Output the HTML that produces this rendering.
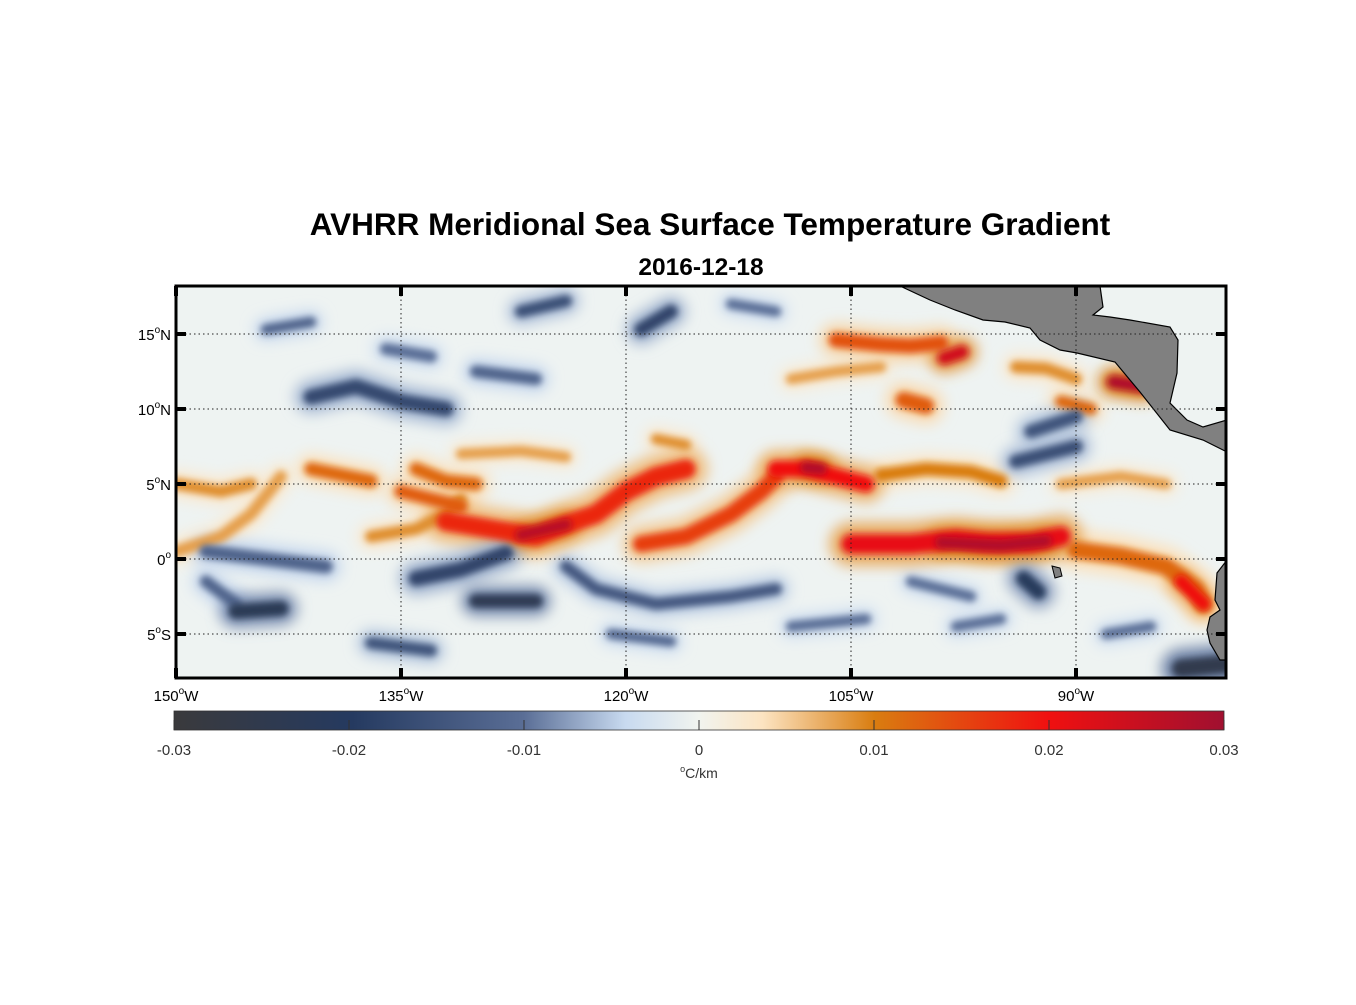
<!DOCTYPE html>
<html><head><meta charset="utf-8"><style>
body{margin:0;background:#fff;}
svg text{font-family:"Liberation Sans",Arial,sans-serif;}
</style></head><body>
<svg id="chart" width="1356" height="1000" viewBox="0 0 1356 1000" xmlns="http://www.w3.org/2000/svg">
<defs>
<filter id="blur" filterUnits="userSpaceOnUse" x="0" y="0" width="1356" height="1000"><feGaussianBlur stdDeviation="3.5"/></filter>
<filter id="blur2" filterUnits="userSpaceOnUse" x="0" y="0" width="1356" height="1000"><feGaussianBlur stdDeviation="7"/></filter>
<clipPath id="mapclip"><rect x="176" y="286" width="1050" height="392"/></clipPath>
<linearGradient id="cbar" x1="0" x2="1" y1="0" y2="0">
<stop offset="0" stop-color="#3a3a3c"/>
<stop offset="0.17" stop-color="#253a60"/>
<stop offset="0.333" stop-color="#5a6e96"/>
<stop offset="0.43" stop-color="#c8daf0"/>
<stop offset="0.5" stop-color="#f1f4ef"/>
<stop offset="0.56" stop-color="#fce4c2"/>
<stop offset="0.667" stop-color="#d97d10"/>
<stop offset="0.833" stop-color="#f01010"/>
<stop offset="1" stop-color="#a01030"/>
</linearGradient>
</defs>
<text x="710" y="235" text-anchor="middle" font-size="31.5" font-weight="bold">AVHRR Meridional Sea Surface Temperature Gradient</text>
<text x="701" y="275" text-anchor="middle" font-size="24.5" font-weight="bold">2016-12-18</text>
<rect x="176" y="286" width="1050" height="392" fill="#eef3f2"/>
<g id="field" clip-path="url(#mapclip)"></g>
<g clip-path="url(#mapclip)">
<path d="M900,286 L1100,286 L1103,307 L1093,315 L1110,317 L1130,320 L1170,327 L1178,340 L1177,373 L1170,403 L1187,420 L1203,427 L1227,420 L1227,452 L1217,447 L1203,440 L1170,430 L1140,392 L1115,362 L1077,353 L1060,350 L1040,340 L1030,328 L1005,322 L983,320 L955,310 L930,300 Z" fill="#808080" stroke="#000" stroke-width="1.2"/>
<path d="M1227,560 L1217,573 L1215,600 L1220,610 L1210,617 L1207,630 L1210,643 L1220,660 L1227,660 Z" fill="#808080" stroke="#000" stroke-width="1.2"/>
<path d="M1052,566 L1060,568 L1062,576 L1055,578 Z" fill="#808080" stroke="#000" stroke-width="1"/>
</g>
<g id="grid"></g>
<rect x="176" y="286" width="1050" height="392" fill="none" stroke="#000" stroke-width="3"/>
<g id="axes"></g>
<rect x="174" y="711" width="1050" height="19" fill="url(#cbar)" stroke="#333" stroke-width="0.8"/>
<g id="cbticks"></g>
<text x="699" y="778" text-anchor="middle" font-size="14" fill="#333"><tspan font-size="9" dy="-6">o</tspan><tspan dy="6">C/km</tspan></text>
</svg>
<script>
const lonTicks=[-150,-135,-120,-105,-90];
const latTicks=[15,10,5,0,-5];
const cbTicks=[-0.03,-0.02,-0.01,0,0.01,0.02,0.03];
const cbLabels=["-0.03","-0.02","-0.01","0","0.01","0.02","0.03"];
// fronts: polylines in [lon,lat], value (°C/km), width (deg)
const frontPts=[
[[-150,0.5],[-147,1.5],[-145,3],[-143,5.5]],
[[-150,5],[-147,4.5],[-145,5]],
[[-141,6],[-139,5.6],[-137,5.2]],
[[-137,1.5],[-134,2],[-132,3],[-131,4]],
[[-135,4.5],[-133,4],[-131,3.5]],
[[-134,6],[-132,5.2],[-130,5]],
[[-131,7],[-127,7.2],[-124,6.8]],
[[-132,2.5],[-129,2],[-126,1.5],[-124,2.3],[-122,3],[-120,4.5],[-118,5.5],[-116,6]],
[[-127,1.6],[-124,2.3]],
[[-119,1],[-116,1.5],[-113,3],[-111,4.5],[-110,5.5]],
[[-110,6],[-108,6],[-106,5.5],[-104,5]],
[[-108,6.1],[-107,6]],
[[-105,1],[-101,1],[-98,1.3],[-96,1.1],[-93,1.1],[-91,1.5]],
[[-99,1.1],[-95,0.9],[-92,1.2]],
[[-90,0.6],[-87,0.2],[-84,-0.5],[-82,-2],[-81.5,-3]],
[[-83,-1.5],[-81.5,-3]],
[[-103,5.6],[-100,6],[-97,5.8],[-95,5.2]],
[[-91,5],[-87,5.5],[-84,5]],
[[-106,14.6],[-103,14.3],[-101,14.2],[-99,14.4]],
[[-109,12],[-106,12.5],[-103,12.8]],
[[-101.5,10.6],[-100,10.2]],
[[-98.8,13.4],[-97.6,13.8]],
[[-87.5,11.8],[-85.5,11.5]],
[[-94,12.8],[-92,12.7],[-90,12]],
[[-91,10.5],[-89,10]],
[[-118,8],[-116,7.6]],
[[-146,-3.5],[-143,-3.3]],
[[-130,-2.8],[-126,-2.8]],
[[-141,10.8],[-138,11.5],[-135,10.5],[-132,10]],
[[-148,0.5],[-144,0],[-140,-0.5]],
[[-134,-1.3],[-131,-0.7],[-128,0.4]],
[[-124,-0.5],[-122,-2],[-118,-3],[-113,-2.5],[-110,-2]],
[[-117,16.5],[-119,15.3]],
[[-127,16.5],[-124,17.2]],
[[-144,15.3],[-141,15.8]],
[[-130,12.5],[-126,12]],
[[-93,8.5],[-90,9.5]],
[[-94,6.5],[-90,7.5]],
[[-93.5,-1.3],[-92.5,-2.2]],
[[-83,-7.3],[-80,-7]],
[[-137,-5.6],[-133,-6.1]],
[[-109,-4.5],[-104,-4]],
[[-98,-4.5],[-95,-4]],
[[-148,-1.5],[-146,-3]],
[[-121,-5],[-117,-5.5]],
[[-136,14],[-133,13.5]],
[[-113,17],[-110,16.5]],
[[-101,-1.5],[-97,-2.5]],
[[-88,-5],[-85,-4.5]]
];
const frontVal=[0.008,0.009,0.012,0.009,0.013,0.012,0.008,0.018,0.027,0.016,0.02,0.028,0.021,0.028,0.012,0.02,0.01,0.008,0.014,0.008,0.013,0.024,0.028,0.009,0.012,0.009,
-0.023,-0.024,-0.017,-0.012,-0.018,-0.014,-0.018,-0.016,-0.012,-0.012,-0.015,-0.016,-0.021,-0.025,-0.015,-0.01,-0.01,-0.012,-0.011,-0.01,-0.01,-0.01,-0.01];
const frontW=[0.8,0.8,0.9,0.8,0.9,0.9,0.7,1.3,0.8,1.1,1.1,0.8,1.3,0.8,1.2,0.9,0.9,0.7,1.0,0.7,1.1,0.9,0.9,0.8,0.8,0.7,
1.0,0.9,1.0,0.9,1.0,0.8,0.9,0.8,0.7,0.8,0.9,0.9,1.0,1.2,0.8,0.7,0.7,0.8,0.7,0.8,0.7,0.7,0.7];

const X0=176,PX=15,Y0=559;
const xs=lon=>X0+(lon+150)*PX;
const ys=lat=>Y0-lat*PX;
const stops=[[-0.03,[58,58,60]],[-0.02,[37,58,96]],[-0.01,[90,110,150]],[-0.004,[200,218,240]],[0,[241,244,239]],[0.004,[252,228,194]],[0.01,[217,125,16]],[0.02,[240,16,16]],[0.03,[160,16,48]]];
function cmap(v){v=Math.max(-0.03,Math.min(0.03,v));for(let i=0;i<stops.length-1;i++){const a=stops[i],b=stops[i+1];if(v<=b[0]){const t=(v-a[0])/(b[0]-a[0]);return 'rgb('+a[1].map((c,k)=>Math.round(c+(b[1][k]-c)*t)).join(',')+')';}}return 'rgb(160,16,48)';}
const NS='http://www.w3.org/2000/svg';
const field=document.getElementById('field');
const order=frontVal.map((v,i)=>i).sort((a,b)=>Math.abs(frontVal[a])-Math.abs(frontVal[b]));
for(const pass of [0,1]){
 for(const i of order){
  const d=frontPts[i].map((p,k)=>(k?'L':'M')+xs(p[0]).toFixed(1)+','+ys(p[1]).toFixed(1)).join(' ');
  const p=document.createElementNS(NS,'path');
  p.setAttribute('d',d);
  p.setAttribute('fill','none');
  p.setAttribute('stroke-linecap','round');
  p.setAttribute('stroke-linejoin','round');
  if(pass===0){p.setAttribute('stroke',cmap(frontVal[i]*0.35));p.setAttribute('stroke-width',frontW[i]*PX*2.2);p.setAttribute('filter','url(#blur2)');}
  else{p.setAttribute('stroke',cmap(frontVal[i]));p.setAttribute('stroke-width',frontW[i]*PX);p.setAttribute('filter','url(#blur)');}
  
  
  field.appendChild(p);
 }
}
const grid=document.getElementById('grid'),axes=document.getElementById('axes');
function el(tag,attrs,parent,txt){const e=document.createElementNS(NS,tag);for(const k in attrs)e.setAttribute(k,attrs[k]);if(txt!==undefined)e.textContent=txt;parent.appendChild(e);return e;}
lonTicks.forEach(lon=>{
 const x=xs(lon);
 const g=el('line',{x1:x,x2:x,y1:286,y2:678,stroke:'#222','stroke-width':1,'stroke-dasharray':'1.5,3'},grid);
 
 
 el('line',{x1:x,x2:x,y1:286,y2:296,stroke:'#000','stroke-width':4},axes);
 el('line',{x1:x,x2:x,y1:668,y2:678,stroke:'#000','stroke-width':4},axes);
 const t=el('text',{x:x,y:701,'text-anchor':'middle','font-size':15},axes);
 
 
 el('tspan',{},t,String(-lon));el('tspan',{'font-size':10,dy:-7},t,'o');el('tspan',{dy:7},t,'W');
});
latTicks.forEach(lat=>{
 const y=ys(lat);
 const g=el('line',{x1:176,x2:1226,y1:y,y2:y,stroke:'#222','stroke-width':1,'stroke-dasharray':'1.5,3'},grid);
 
 
 el('line',{x1:176,x2:186,y1:y,y2:y,stroke:'#000','stroke-width':4},axes);
 el('line',{x1:1216,x2:1226,y1:y,y2:y,stroke:'#000','stroke-width':4},axes);
 const t=el('text',{x:171,y:y+6,'text-anchor':'end','font-size':15},axes);
 
 
 const hem=lat>0?'N':(lat<0?'S':'');
 el('tspan',{},t,String(Math.abs(lat)));el('tspan',{'font-size':10,dy:-7},t,'o');el('tspan',{dy:7},t,hem);
});
const cbt=document.getElementById('cbticks');
cbTicks.forEach((v,i)=>{
 const x=174+(v+0.03)/0.06*1050;
 el('line',{x1:x,x2:x,y1:720,y2:730,stroke:'#333','stroke-width':1},cbt);
 const t=el('text',{x:x,y:755,'text-anchor':'middle','font-size':15,fill:'#333'},cbt,cbLabels[i]);
 
 
});
</script>
</body></html>
